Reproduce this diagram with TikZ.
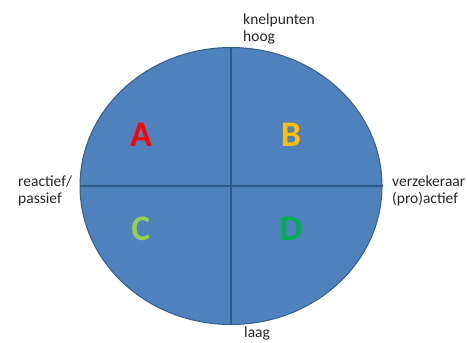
\documentclass[tikz,border=0pt]{standalone}
\usepackage{fontspec}
\setmainfont{Carlito}
\usetikzlibrary{shapes.geometric}
\definecolor{fillblue}{HTML}{4F81BD}
\definecolor{edgeblue}{HTML}{385D8A}
\definecolor{lineblue}{HTML}{2E5A8A}
\definecolor{cA}{HTML}{FF0000}
\definecolor{cB}{HTML}{FFC000}
\definecolor{cC}{HTML}{92D050}
\definecolor{cD}{HTML}{00B050}
\begin{document}
\begin{tikzpicture}[x=1pt,y=-1pt,
  lab/.style={anchor=base west,inner sep=0pt,font=\fontsize{15.5}{18}\selectfont,text=black!85},
  letter/.style={font=\fontsize{36}{36}\selectfont\bfseries,inner sep=0pt}]
\useasboundingbox (0,0) rectangle (467,343);
\node[draw=edgeblue,line width=1pt,fill=fillblue,ellipse,minimum width=302pt,minimum height=277pt,inner sep=0pt] (ell) at (231,186) {};
\draw[lineblue,line width=1.2pt] (ell.north) -- (ell.south);
\draw[lineblue,line width=1.2pt] (ell.west) -- (ell.east);
\node[letter,text=cA] (A) at (141,135) {A};
\node[letter,text=cB] (B) at (291,135) {B};
\node[letter,text=cC] (C) at (141,229) {C};
\node[letter,text=cD] (D) at (291,229) {D};
\node[lab] (hi1) at (243,24) {knelpunten};
\node[lab] (hi2) at (243,41) {hoog};
\node[lab] (l1) at (18,186) {reactief/};
\node[lab] (l2) at (18,203) {passief};
\node[lab] (r1) at (392,186) {verzekeraar};
\node[lab] (r2) at (392,203) {(pro)actief};
\node[lab] (lo) at (244,337) {laag};
\end{tikzpicture}
\end{document}
